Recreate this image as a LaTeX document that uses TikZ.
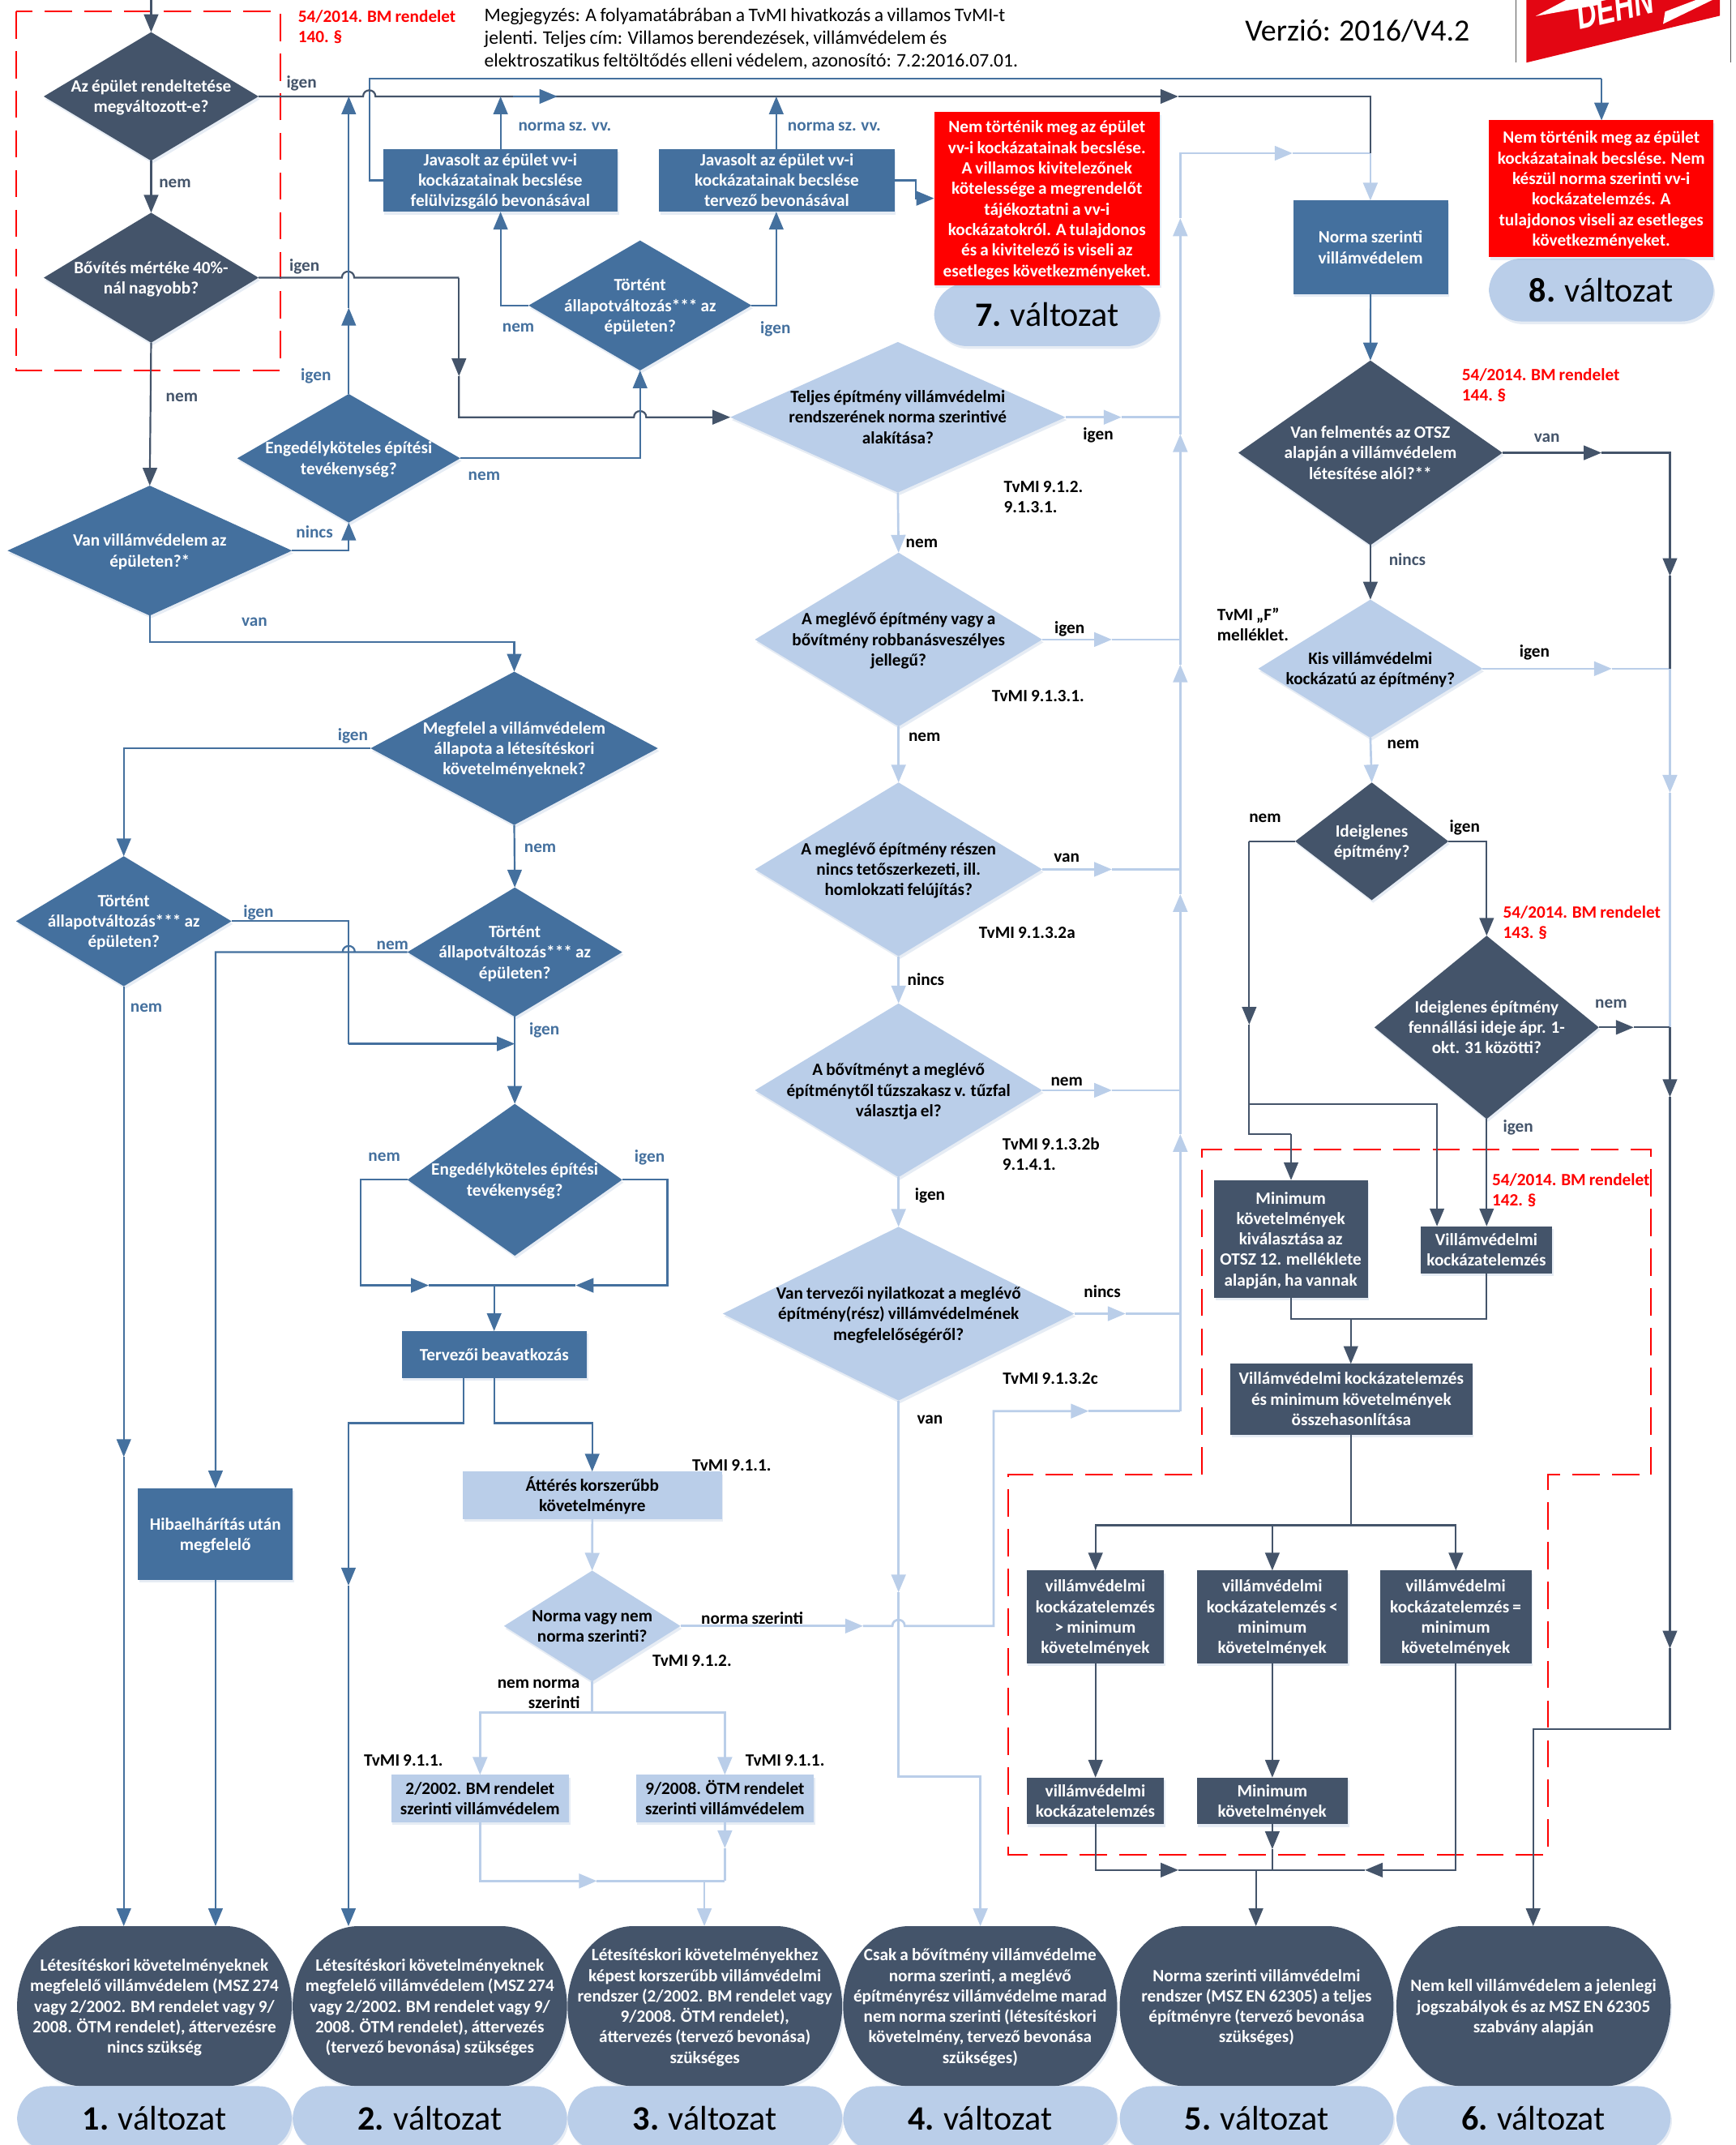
\documentclass[tikz,border=0pt]{standalone}
\usepackage{fontspec}
\setmainfont{Carlito}[WordSpace=0.85]
\newfontfamily\logofont{Liberation Sans}
\usetikzlibrary{arrows.meta,shapes.geometric,shadows}
\definecolor{cdark}{HTML}{44546A}
\definecolor{cmid}{HTML}{44709E}
\definecolor{clight}{HTML}{BACEE9}
\definecolor{cshadow}{HTML}{9DB4D2}
\definecolor{clogo}{HTML}{E30613}
\newcommand\fsz{\fontsize{12.6}{15}\selectfont\bfseries}
\newcommand\dtxt[1]{\makebox[0pt]{\smash{\raisebox{-4.3pt}{\fsz\begin{tabular}[c]{@{}c@{}}#1\end{tabular}}}}}
\newcommand\dnode[7]{\node[diamond,#6,minimum width=#4,minimum height=#5] (#1) at (#2,#3) {\dtxt{#7}};}
\newcommand\bxn[7]{\node[rectangle,#6,minimum width={#4-#2},minimum height={#5-#3}] (#1) at ({(#2+#4)/2},{(#3+#5)/2}) {\dtxt{#7}};}
\newcommand\lbc[5]{\node[lbl,text=#4] (#1) at (#2,#3) {#5};}
\newcommand\lbw[5]{\node[lbl,text=#4,anchor=west,align=left] (#1) at (#2,#3) {#5};}
\newcommand\hh[2]{-- ({#1-4.5},#2) .. controls ({#1-4.5},{#2-6}) and ({#1+4.5},{#2-6}) .. ({#1+4.5},#2)}
\newcommand\resn[4]{%
  \fill[cdark,shad] (#2,1466.5) .. controls (#2,1434.6) and ({#2+22},1408) .. ({#2+48},1408) -- ({#3-48},1408)
    .. controls ({#3-22},1408) and (#3,1434.6) .. (#3,1466.5) .. controls (#3,1498.4) and ({#3-22},1525) .. ({#3-48},1525)
    -- ({#2+48},1525) .. controls ({#2+22},1525) and (#2,1498.4) .. (#2,1466.5) -- cycle;
  \node[restxt,minimum width={#3-#2}] (#1) at ({(#2+#3)/2},1466.5) {\dtxt{#4}};}
\newcommand\pilln[6]{\node[pillbox,minimum width={#3-#2},minimum height={#5-#4}] (#1) at ({(#2+#3)/2},{(#4+#5)/2}) {\textbf{#6} változat};}
\tikzset{
  shad/.style={drop shadow={shadow xshift=1pt,shadow yshift=-2pt,opacity=.25,fill=cshadow}},
  base/.style={inner sep=0pt,outer sep=0pt,draw=none,shad,align=center,font=\fsz},
  ddark/.style={base,fill=cdark,text=white,aspect=1},
  dmid/.style={base,fill=cmid,text=white,aspect=1},
  dlight/.style={base,fill=clight,text=black,aspect=1},
  bdark/.style={base,fill=cdark,text=white},
  bmid/.style={base,fill=cmid,text=white},
  blight/.style={base,fill=clight,text=black},
  bred/.style={base,fill=red,text=white},
  restxt/.style={inner sep=0pt,outer sep=0pt,align=center,text=white,font=\fsz,minimum height=117},
  pillbox/.style={rectangle,rounded corners=24pt,fill=clight,inner sep=0pt,outer sep=0pt,shad,font=\fontsize{25}{28}\selectfont},
  lbl/.style={inner sep=0pt,outer sep=0pt,font=\fsz,yshift=-1pt},
  lnd/.style={draw=cdark,line width=1.3pt},
  lnm/.style={draw=cmid,line width=1.3pt},
  lnl/.style={draw=clight,line width=1.6pt},
  tp/.style={-{Triangle[length=13pt,width=10.5pt]}},
  reddash/.style={draw=red,line width=1.1pt,dash pattern=on 20pt off 9pt},
}
\begin{document}
\begin{tikzpicture}[x=1pt,y=-1pt]
\useasboundingbox (0,0) rectangle (1269,1568);
% logo
\coordinate (lgA) at (1108.2,0); \coordinate (lgB) at (1108.2,45.6);
\coordinate (lgC) at (1265.4,0); \coordinate (lgD) at (1265.4,45.6);
\draw[gray!70!black,line width=.7pt] (lgA) -- (lgB);
\draw[gray!70!black,line width=.7pt] (lgC) -- (lgD);
\fill[clogo] (1116,0) -- (1257.5,0) -- (1257.5,11.5) -- (1116,45.8) -- cycle;
\fill[white] (1169,3.5) -- (1169,0) -- (1145,0) -- (1122.8,11.8) -- cycle;
\fill[white] (1216,17.5) -- (1217.5,8.5) -- (1240,0) -- (1252,0) -- cycle;
\node[inner sep=0pt,text=white,rotate=13,anchor=base] (logotxt) at (1183,15.3) {\logofont\bfseries\itshape\scalebox{1}[1.45]{\fontsize{20}{20}\selectfont DEHN}};
% red dashed frames
\draw[reddash] (12,8.2) rectangle (205,270.6);
\draw[reddash] (879,1078) -- (879,840.5) -- (1207.3,840.5) -- (1207.3,1078) -- (1131.6,1078) -- (1131.6,1355.8) -- (737.4,1355.8) -- (737.4,1078) -- cycle;
% head text
\node[inner sep=0pt,anchor=west,align=left,font=\fontsize{14}{16.5}\selectfont] (note) at (354,28.5) {Megjegyzés: A folyamatábrában a TvMI hivatkozás a villamos TvMI-t\\jelenti. Teljes cím: Villamos berendezések, villámvédelem és\\elektroszatikus feltöltődés elleni védelem, azonosító: 7.2:2016.07.01.};
\node[inner sep=0pt,font=\fontsize{22.5}{24}\selectfont] (verzio) at (992.5,22.5) {Verzió: 2016/V4.2};
% diamonds
\dnode{d1}{110.5}{70.5}{157}{94}{ddark}{Az épület rendeltetése\\megváltozott-e?}
\dnode{d2}{110.5}{203}{157}{95}{ddark}{Bővítés mértéke 40\%-\\nál nagyobb?}
\dnode{d3}{109.5}{402.5}{208}{95}{dmid}{Van villámvédelem az\\épületen?*}
\dnode{d4}{255}{335}{163}{94}{dmid}{Engedélyköteles építési\\tevékenység?}
\dnode{d5}{468}{223.3}{163}{95}{dmid}{Történt\\állapotváltozás*** az\\épületen?}
\dnode{t1}{656.5}{305}{245}{110}{dlight}{Teljes építmény villámvédelmi\\rendszerének norma szerintivé\\alakítása?}
\dnode{t2}{657}{467.5}{210}{127}{dlight}{A meglévő építmény vagy a\\bővítmény robbanásveszélyes\\jellegű?}
\dnode{t3}{657}{635.5}{210}{127}{dlight}{A meglévő építmény részen\\nincs tetőszerkezeti, ill.\\homlokzati felújítás?}
\dnode{t4}{657}{797}{210}{127}{dlight}{A bővítményt a meglévő\\építménytől tűzszakasz v. tűzfal\\választja el?}
\dnode{t5}{657}{960.3}{257}{127}{dlight}{Van tervezői nyilatkozat a meglévő\\építmény(rész) villámvédelmének\\megfelelőségéről?}
\dnode{m1}{376}{547}{210}{112}{dmid}{Megfelel a villámvédelem\\állapota a létesítéskori\\követelményeknek?}
\dnode{m2}{90.5}{673.4}{157.5}{95}{dmid}{Történt\\állapotváltozás*** az\\épületen?}
\dnode{m3}{376.4}{696}{157}{94.5}{dmid}{Történt\\állapotváltozás*** az\\épületen?}
\dnode{m4}{376.4}{862.4}{157}{111}{dmid}{Engedélyköteles építési\\tevékenység?}
\dnode{n1}{433}{1188.6}{129}{81}{dlight}{Norma vagy nem\\norma szerinti?}
\dnode{r1d}{1002}{331}{193}{135}{ddark}{Van felmentés az OTSZ\\alapján a villámvédelem\\létesítése alól?**}
\dnode{r2d}{1002}{488.8}{164}{101}{dlight}{Kis villámvédelmi\\kockázatú az építmény?}
\dnode{r3d}{1003}{615}{112}{86}{ddark}{Ideiglenes\\építmény?}
\dnode{r4d}{1087}{751}{164}{134}{ddark}{Ideiglenes építmény\\fennállási ideje ápr. 1-\\okt. 31 közötti?}
% boxes
\bxn{j1}{280}{108.8}{451.6}{154.8}{bmid}{Javasolt az épület vv-i\\kockázatainak becslése\\felülvizsgáló bevonásával}
\bxn{j2}{482}{108.8}{654}{154.8}{bmid}{Javasolt az épület vv-i\\kockázatainak becslése\\tervező bevonásával}
\pilln{p7}{683}{848}{207}{253}{7.}
\pilln{p8}{1088.6}{1253}{189}{235}{8.}
\bxn{e7}{683}{82}{848}{208.6}{bred}{Nem történik meg az épület\\vv-i kockázatainak becslése.\\A villamos kivitelezőnek\\kötelessége a megrendelőt\\tájékoztatni a vv-i\\kockázatokról. A tulajdonos\\és a kivitelező is viseli az\\esetleges következményeket.}
\bxn{e8}{1088.6}{88}{1253}{188}{bred}{Nem történik meg az épület\\kockázatainak becslése. Nem\\készül norma szerinti vv-i\\kockázatelemzés. A\\tulajdonos viseli az esetleges\\következményeket.}
\bxn{nb}{945.6}{146.6}{1058.7}{215}{bmid}{Norma szerinti\\villámvédelem}
\bxn{tb}{293.7}{973}{429}{1007.4}{bmid}{Tervezői beavatkozás}
\bxn{hb}{101}{1088}{214}{1155}{bmid}{Hibaelhárítás után\\megfelelő}
\bxn{ab}{338.5}{1075.7}{527.7}{1110.5}{blight}{Áttérés korszerűbb\\követelményre}
\bxn{b2}{286}{1297.4}{416}{1332}{blight}{2/2002. BM rendelet\\szerinti villámvédelem}
\bxn{b9}{465}{1297.4}{595}{1332}{blight}{9/2008. ÖTM rendelet\\szerinti villámvédelem}
\bxn{mk}{887.6}{862.7}{1000}{948.7}{bdark}{Minimum\\követelmények\\kiválasztása az\\OTSZ 12. melléklete\\alapján, ha vannak}
\bxn{vk}{1038.6}{896.4}{1135}{930.7}{bdark}{Villámvédelmi\\kockázatelemzés}
\bxn{oh}{899.6}{997}{1076.5}{1048.6}{bdark}{Villámvédelmi kockázatelemzés\\és minimum követelmények\\összehasonlítása}
\bxn{c1}{750.6}{1148}{851.2}{1216}{bdark}{villámvédelmi\\kockázatelemzés\\> minimum\\követelmények}
\bxn{c2}{875}{1148}{985.5}{1216}{bdark}{villámvédelmi\\kockázatelemzés <\\minimum\\követelmények}
\bxn{c3}{1009}{1148}{1119.7}{1216}{bdark}{villámvédelmi\\kockázatelemzés =\\minimum\\követelmények}
\bxn{c4}{750.6}{1299.4}{851.2}{1333.6}{bdark}{villámvédelmi\\kockázatelemzés}
\bxn{c5}{875}{1299.4}{985.5}{1333.6}{bdark}{Minimum\\követelmények}
% result nodes
\resn{r1}{12.5}{213.3}{Létesítéskori követelményeknek\\megfelelő villámvédelem (MSZ 274\\vagy 2/2002. BM rendelet vagy 9/\\2008. ÖTM rendelet), áttervezésre\\nincs szükség}
\resn{r2}{214}{414.6}{Létesítéskori követelményeknek\\megfelelő villámvédelem (MSZ 274\\vagy 2/2002. BM rendelet vagy 9/\\2008. ÖTM rendelet), áttervezés\\(tervező bevonása) szükséges}
\resn{r3}{415}{615.8}{Létesítéskori követelményekhez\\képest korszerűbb villámvédelmi\\rendszer (2/2002. BM rendelet vagy\\9/2008. ÖTM rendelet),\\áttervezés (tervező bevonása)\\szükséges}
\resn{r4}{616.5}{816.8}{Csak a bővítmény villámvédelme\\norma szerinti, a meglévő\\építményrész villámvédelme marad\\nem norma szerinti (létesítéskori\\követelmény, tervező bevonása\\szükséges)}
\resn{r5}{818.7}{1018.9}{Norma szerinti villámvédelmi\\rendszer (MSZ EN 62305) a teljes\\építményre (tervező bevonása\\szükséges)}
\resn{r6}{1021}{1221.5}{Nem kell villámvédelem a jelenlegi\\jogszabályok és az MSZ EN 62305\\szabvány alapján}
\pilln{p1}{12.5}{213.3}{1525}{1572}{1.}
\pilln{p2}{214}{414.6}{1525}{1572}{2.}
\pilln{p3}{415}{615.8}{1525}{1572}{3.}
\pilln{p4}{616.5}{816.8}{1525}{1572}{4.}
\pilln{p5}{818.7}{1018.9}{1525}{1572}{5.}
\pilln{p6}{1021}{1221.5}{1525}{1572}{6.}
% ---------- light connectors
\draw[lnl,tp] (t1.south) -- (t2.north);
\draw[lnl,tp] (t2.south) -- (t3.north);
\draw[lnl,tp] (t3.south) -- (t4.north);
\draw[lnl,tp] (t4.south) -- (t5.north);
\draw[lnl,tp] (t1.east) -- (820,305);
\draw[lnl] (820,305) -- (863,305);
\draw[lnl,tp] (t2.east) -- (813,467.5);
\draw[lnl] (813,467.5) -- (863,467.5);
\draw[lnl,tp] (t3.east) -- (813,635.5);
\draw[lnl] (813,635.5) -- (863,635.5);
\draw[lnl,tp] (t4.east) -- (813,797);
\draw[lnl] (813,797) -- (863,797);
\draw[lnl,tp] (t5.east) -- (823,960.3);
\draw[lnl] (823,960.3) -- (863,960.3);
\draw[lnl,tp] (t5.south) -- (657,1164);
\draw[lnl,tp] (657,1164) -- (657,1298.7) -- (716.8,1298.7) -- (r4.north -| 716.8,0);
\draw[lnl,tp] (ab.south) -- (n1.north);
\draw[lnl,tp] (n1.east) -- (631,1188.6);
\draw[lnl,tp] (631,1188.6) \hh{657}{1188.6} -- (726.5,1188.6) -- (726.5,1031.5) -- (796,1031.5);
\draw[lnl] (796,1031.5) -- (863,1031.5);
\draw[lnl,tp] (863,1031.5) -- (863,829);
\draw[lnl,tp] (863,829) -- (863,653.6);
\draw[lnl,tp] (863,653.6) -- (863,485.8);
\draw[lnl,tp] (863,485.8) -- (863,317.4);
\draw[lnl,tp] (863,317.4) -- (863,159.6);
\draw[lnl,tp] (863,159.6) -- (863,112) -- (945,112);
\draw[lnl] (945,112) -- (1002,112);
\draw[lnl,tp] (1002,112) -- (nb.north -| 1002,0);
\draw[lnl] (n1.south) -- (433,1252);
\draw[lnl,tp] (433,1252) -- (351,1252) -- (b2.north);
\draw[lnl,tp] (433,1252) -- (530,1252) -- (b9.north);
\draw[lnl,tp] (b2.south) -- (351,1375) -- (436.4,1375);
\draw[lnl] (436.4,1375) -- (530,1375);
\draw[lnl,tp] (b9.south) -- (530,1351);
\draw[lnl] (530,1351) -- (530,1375);
\draw[lnl,tp] (515,1375) -- (r3.north -| 515,0);
\draw[lnl,tp] (r2d.south) -- (r3d.north);
\draw[lnl,tp] (r2d.east) -- (1178.5,488.8);
\draw[lnl] (1178.5,488.8) -- (1221,488.8);
\draw[lnl,tp] (1221,488.8) -- (1221,579.5);
\draw[lnl] (1221,579.5) -- (1221,751);
% ---------- dark connectors
\coordinate (topin) at (110.5,-2);
\draw[lnd,tp] (topin) -- (d1.north);
\draw[lnd,tp] (d1.south) -- (d2.north);
\draw[lnd,tp] (d2.south) -- (d3.north);
\draw[lnm] (j1.west) -- (270,131.8) -- (270,57.4) -- (1171,57.4);
\draw[lnd,tp] (d1.east) \hh{270}{70.5} -- (861.5,70.5);
\draw[lnd] (861.5,70.5) -- (1002,70.5) -- (1002,112);
\draw[lnm,tp] (375,70.5) -- (407.5,70.5);
\draw[lnm,tp] (1171,57.4) -- (e8.north -| 1171,0);
\draw[lnd] (d2.east) \hh{254.5}{203} -- (335.6,203);
\draw[lnd,tp] (335.6,203) -- (335.6,275);
\draw[lnd,tp] (335.6,275) -- (335.6,305) \hh{468}{305} -- (t1.west);
\draw[lnm,tp] (d4.north) -- (255,225);
\draw[lnm,tp] (255,225) -- (255,70.5);
\draw[lnm,tp] (d3.east) -- (255,402.5) -- (d4.south);
\draw[lnm,tp] (d4.east) -- (468,335) -- (d5.south);
\draw[lnm,tp] (d5.west) -- (366,223.3) -- (j1.south -| 366,0);
\draw[lnm,tp] (d5.east) -- (567.6,223.3) -- (j2.south -| 567.6,0);
\draw[lnm,tp] (j1.north -| 366,0) -- (366,70.5);
\draw[lnm,tp] (j2.north -| 567.6,0) -- (567.6,70.5);
\draw[lnm,tp] (j2.east) -- (669.4,131.8) -- (669.4,145) -- (e7.west |- 0,145);
\draw[lnm,tp] (d3.south) -- (109.5,469.5) -- (376,469.5) -- (m1.north);
\draw[lnm,tp] (m1.west) -- (90.5,547) -- (m2.north);
\draw[lnm,tp] (m1.south) -- (m3.north);
\draw[lnm,tp] (m2.south) -- (90.5,1065);
\draw[lnm,tp] (90.5,1065) -- (r1.north -| 90.5,0);
\draw[lnm] (m2.east) -- (255,673.4) -- (255,763);
\draw[lnm,tp] (255,763) -- (376.4,763);
\draw[lnm,tp] (m3.south) -- (m4.north);
\draw[lnm,tp] (m3.west) \hh{255}{696} -- (157.6,696) -- (hb.north -| 157.6,0);
\draw[lnm,tp] (hb.south -| 157.6,0) -- (r1.north -| 157.6,0);
\draw[lnm,tp] (m4.west) -- (263.8,862.4) -- (263.8,939.6) -- (313.5,939.6);
\draw[lnm] (313.5,939.6) -- (421,939.6);
\draw[lnm,tp] (m4.east) -- (488,862.4) -- (488,939.6) -- (421,939.6);
\draw[lnm,tp] (361.3,939.6) -- (tb.north -| 361.3,0);
\draw[lnm,tp] (tb.south -| 361.5,0) -- (361.5,1040.3) -- (433,1040.3) -- (ab.north -| 433,0);
\draw[lnm,tp] (tb.south -| 339,0) -- (339,1040.3) -- (254.8,1040.3) -- (254.8,1159);
\draw[lnm,tp] (254.8,1159) -- (r2.north -| 254.8,0);
\draw[lnm,tp] (nb.south) -- (r1d.north);
\draw[lnd,tp] (r1d.south) -- (r2d.north);
\draw[lnd,tp] (r1d.east) -- (1171,331);
\draw[lnd,tp] (1171,331) -- (1221,331) -- (1221,421);
\draw[lnd] (1221,421) -- (1221,488.8);
\draw[lnd] (r3d.west) -- (913.4,615);
\draw[lnd,tp] (913.4,615) -- (913.4,749);
\draw[lnd] (913.4,749) -- (913.4,829) -- (944,829);
\draw[lnd,tp] (944,829) -- (mk.north -| 944,0);
\draw[lnd,tp] (913.4,807.3) -- (1050.7,807.3) -- (vk.north -| 1050.7,0);
\draw[lnd,tp] (r3d.east) -- (1087,615) -- (r4d.north);
\draw[lnd,tp] (r4d.south) -- (vk.north -| 1087,0);
\draw[lnd,tp] (r4d.east) -- (1194.5,751);
\draw[lnd] (1194.5,751) -- (1221,751);
\draw[lnd,tp] (1221,751) -- (1221,801.9);
\draw[lnd,tp] (1221,801.9) -- (1221,1205);
\draw[lnd,tp] (1221,1205) -- (1221,1264) -- (1121,1264) -- (r6.north -| 1121,0);
\draw[lnd] (mk.south -| 944,0) -- (944,964) -- (1087,964) -- (vk.south -| 1087,0);
\draw[lnd,tp] (987.7,964) -- (oh.north -| 987.7,0);
\draw[lnd] (oh.south -| 987.7,0) -- (987.7,1115);
\draw[lnd,tp] (987.7,1115) -- (801,1115) -- (c1.north -| 801,0);
\draw[lnd,tp] (930.3,1115) -- (c2.north -| 930.3,0);
\draw[lnd,tp] (987.7,1115) -- (1064.5,1115) -- (c3.north -| 1064.5,0);
\draw[lnd,tp] (c1.south -| 801,0) -- (c4.north -| 801,0);
\draw[lnd,tp] (c2.south -| 930.3,0) -- (c5.north -| 930.3,0);
\draw[lnd,tp] (c4.south -| 801,0) -- (801,1367) -- (861.6,1367);
\draw[lnd] (861.6,1367) -- (998,1367);
\draw[lnd,tp] (c5.south -| 930.3,0) -- (930.3,1351.7);
\draw[lnd] (930.3,1351.7) -- (930.3,1367);
\draw[lnd,tp] (c3.south -| 1064.5,0) -- (1064.5,1367) -- (998,1367);
\draw[lnd,tp] (918.3,1367) -- (r5.north -| 918.3,0);
% ---------- labels
\lbw{x1}{218}{18.5}{red}{54/2014. BM rendelet\\140. §}
\lbc{l1}{220.5}{60}{cdark}{igen}
\lbc{l2}{128}{133}{cdark}{nem}
\lbc{l3}{222.6}{194}{cdark}{igen}
\lbc{l4}{133}{289.5}{cdark}{nem}
\lbc{l5}{231}{274}{cmid}{igen}
\lbc{l6}{354}{347}{cmid}{nem}
\lbc{l7}{230}{388}{cmid}{nincs}
\lbc{l8}{186}{453.5}{cmid}{van}
\lbc{l9}{413}{91.7}{cmid}{norma sz. vv.}
\lbc{l10}{610}{91.7}{cmid}{norma sz. vv.}
\lbc{l11}{379}{238.5}{cmid}{nem}
\lbc{l12}{567}{239.5}{cmid}{igen}
\lbc{l13}{803}{317}{black}{igen}
\lbc{l14}{674}{396}{black}{nem}
\lbc{l15}{782}{459}{black}{igen}
\lbc{l16}{676}{538}{black}{nem}
\lbc{l17}{780}{626}{black}{van}
\lbc{l18}{677}{715}{black}{nincs}
\lbc{l19}{780}{790}{black}{nem}
\lbc{l20}{680}{873}{black}{igen}
\lbc{l21}{806}{943}{black}{nincs}
\lbc{l22}{680}{1037}{black}{van}
\lbw{x2}{734}{362.5}{black}{TvMI 9.1.2.\\9.1.3.1.}
\lbc{x3}{759}{508}{black}{TvMI 9.1.3.1.}
\lbc{x4}{751}{681}{black}{TvMI 9.1.3.2a}
\lbw{x5}{733}{842.5}{black}{TvMI 9.1.3.2b\\9.1.4.1.}
\lbc{x6}{768}{1007}{black}{TvMI 9.1.3.2c}
\lbc{l23}{1131}{319}{cdark}{van}
\lbc{l24}{1029}{408}{cdark}{nincs}
\lbc{l25}{1122}{476}{black}{igen}
\lbc{l26}{1026}{543}{black}{nem}
\lbc{l27}{925}{597}{black}{nem}
\lbc{l28}{1071}{604}{black}{igen}
\lbc{l29}{1178}{733}{cdark}{nem}
\lbc{l30}{1110}{823}{cdark}{igen}
\lbw{x7}{1069}{280.5}{red}{54/2014. BM rendelet\\144. §}
\lbw{x8}{1099}{673.5}{red}{54/2014. BM rendelet\\143. §}
\lbw{x9}{1091}{869}{red}{54/2014. BM rendelet\\142. §}
\lbw{x10}{890}{455.5}{black}{TvMI „F”\\melléklet.}
\lbc{l31}{258}{537}{cmid}{igen}
\lbc{l32}{395}{619}{cmid}{nem}
\lbc{l33}{189}{666}{cmid}{igen}
\lbc{l34}{107}{736}{cmid}{nem}
\lbc{l35}{287}{690}{cmid}{nem}
\lbc{l36}{398}{752}{cmid}{igen}
\lbc{l37}{281}{845}{cmid}{nem}
\lbc{l38}{475}{845}{cmid}{igen}
\lbc{x11}{535}{1070}{black}{TvMI 9.1.1.}
\lbc{l39}{550}{1182}{black}{norma szerinti}
\lbc{x12}{506}{1213}{black}{TvMI 9.1.2.}
\node[lbl,anchor=east,align=right] (l40) at (424,1237.5) {nem norma\\szerinti};
\lbc{x13}{295}{1286}{black}{TvMI 9.1.1.}
\lbc{x14}{574}{1286}{black}{TvMI 9.1.1.}
\end{tikzpicture}
\end{document}
